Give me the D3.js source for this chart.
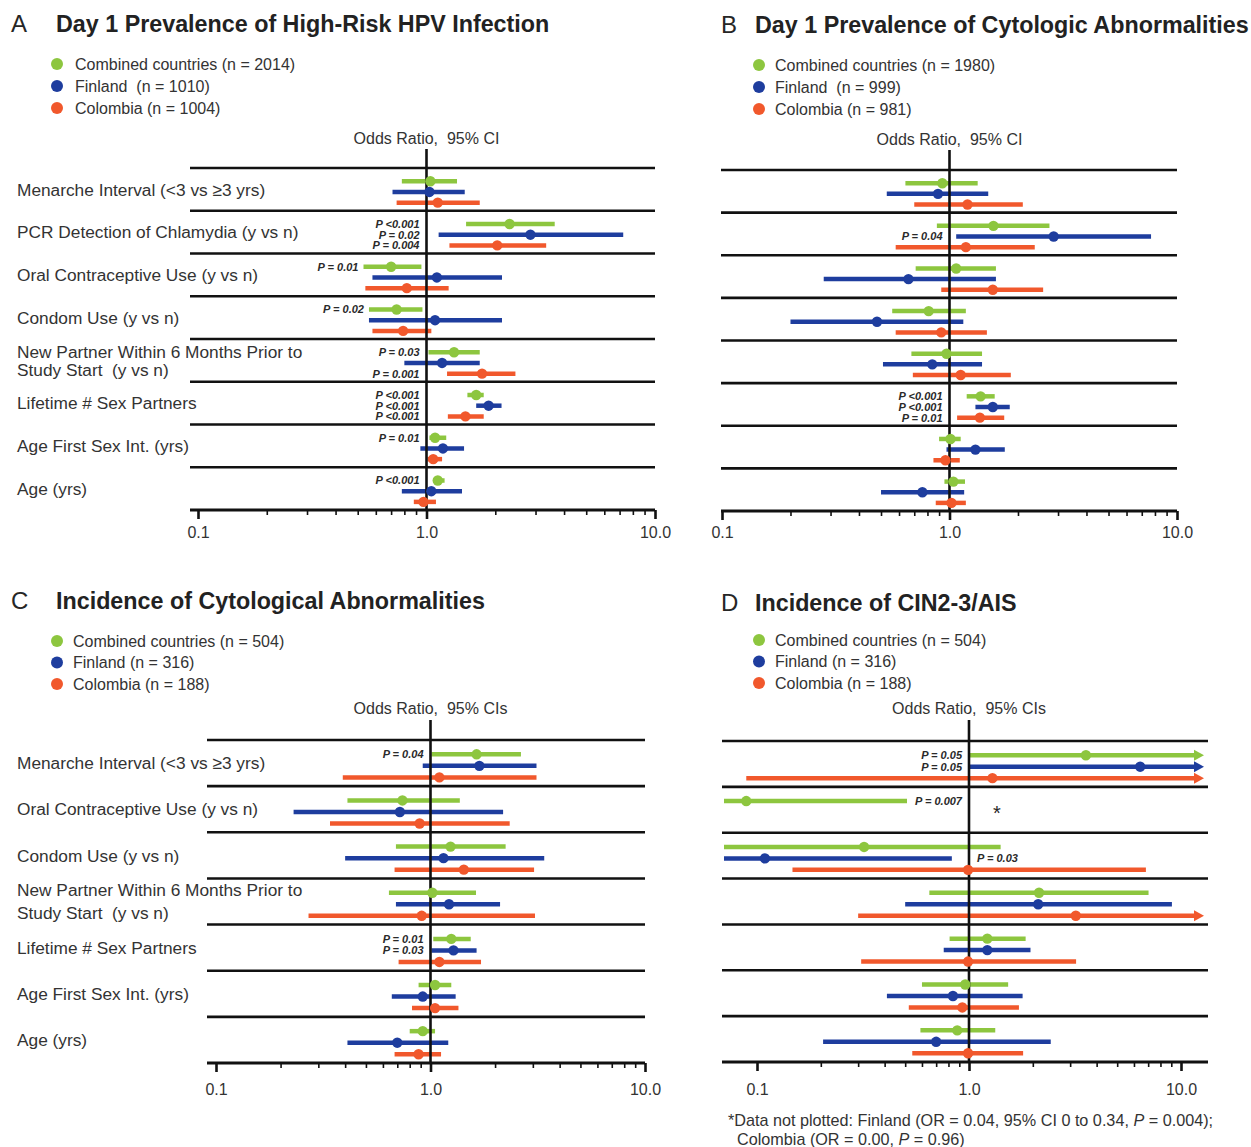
<!DOCTYPE html>
<html><head><meta charset="utf-8">
<script src="https://cdn.jsdelivr.net/npm/d3@7/dist/d3.min.js"></script>
<style>
body{margin:0;background:#fff;}
svg text{font-family:"Liberation Sans",Arial,Helvetica,sans-serif; white-space:pre;}
</style></head><body>
<svg id="chart" width="1251" height="1147"></svg>
<script>
// ---------------- DATA ----------------
const seriesNames = ["Combined countries", "Finland", "Colombia"];
const seriesColors = ["#8dc63f", "#1e3d9e", "#f1582c"];

const legendA = ["Combined countries (n = 2014)", "Finland  (n = 1010)", "Colombia (n = 1004)"];
const legendB = ["Combined countries (n = 1980)", "Finland  (n = 999)", "Colombia (n = 981)"];
const legendC = ["Combined countries (n = 504)", "Finland (n = 316)", "Colombia (n = 188)"];
const legendD = ["Combined countries (n = 504)", "Finland (n = 316)", "Colombia (n = 188)"];

const rowsAB = ["Menarche Interval (<3 vs ≥3 yrs)", "PCR Detection of Chlamydia (y vs n)",
  "Oral Contraceptive Use (y vs n)", "Condom Use (y vs n)",
  "New Partner Within 6 Months Prior to\nStudy Start  (y vs n)", "Lifetime # Sex Partners",
  "Age First Sex Int. (yrs)", "Age (yrs)"];
const rowsCD = ["Menarche Interval (<3 vs ≥3 yrs)", "Oral Contraceptive Use (y vs n)",
  "Condom Use (y vs n)", "New Partner Within 6 Months Prior to\nStudy Start  (y vs n)",
  "Lifetime # Sex Partners", "Age First Sex Int. (yrs)", "Age (yrs)"];

const tickValues = [0.1,0.2,0.3,0.4,0.5,0.6,0.7,0.8,0.9,1,2,3,4,5,6,7,8,9,10];
const tickLabels = {0.1: "0.1", 1: "1.0", 10: "10.0"};

// [odds ratio, lower 95% CI, upper 95% CI]; null bound = beyond plotted range
const aCombined = [[1.04,0.78,1.36],[2.31,1.49,3.64],[0.70,0.53,0.95],[0.74,0.56,0.96],[1.32,1.02,1.71],[1.65,1.51,1.78],[1.09,1.03,1.22],[1.12,1.07,1.20]];
const aFinland  = [[1.03,0.71,1.47],[2.85,1.13,7.26],[1.11,0.58,2.14],[1.09,0.56,2.14],[1.17,0.80,1.71],[1.87,1.65,2.13],[1.18,0.94,1.46],[1.05,0.78,1.43]];
const aColombia = [[1.12,0.74,1.71],[2.04,1.26,3.34],[0.82,0.54,1.25],[0.79,0.58,1.05],[1.75,1.23,2.45],[1.48,1.24,1.78],[1.07,1.01,1.17],[0.97,0.88,1.10]];
const pACombined = ["", "P <0.001", "P = 0.01", "P = 0.02", "P = 0.03", "P <0.001", "P = 0.01", "P <0.001"];
const pAFinland  = ["", "P = 0.02", "", "", "", "P <0.001", "", ""];
const pAColombia = ["", "P = 0.004", "", "", "P = 0.001", "P <0.001", "", ""];

const bCombined = [[0.93,0.64,1.33],[1.56,0.88,2.75],[1.07,0.71,1.60],[0.81,0.56,1.18],[0.97,0.68,1.39],[1.37,1.19,1.58],[1.01,0.90,1.12],[1.04,0.95,1.17]];
const bFinland  = [[0.89,0.53,1.48],[2.87,1.07,7.69],[0.66,0.28,1.60],[0.48,0.20,1.15],[0.84,0.51,1.39],[1.55,1.30,1.84],[1.30,0.97,1.75],[0.76,0.50,1.16]];
const bColombia = [[1.20,0.70,2.10],[1.18,0.58,2.37],[1.55,0.92,2.58],[0.92,0.58,1.46],[1.12,0.69,1.86],[1.36,1.08,1.74],[0.96,0.85,1.11],[1.02,0.87,1.18]];
const pBCombined = ["", "", "", "", "", "P <0.001", "", ""];
const pBFinland  = ["", "P = 0.04", "", "", "", "P <0.001", "", ""];
const pBColombia = ["", "", "", "", "", "P = 0.01", "", ""];

const cCombined = [[1.64,1.01,2.64],[0.74,0.41,1.37],[1.24,0.69,2.24],[1.02,0.64,1.63],[1.25,1.03,1.54],[1.05,0.88,1.25],[0.92,0.80,1.05]];
const cFinland  = [[1.69,0.92,3.12],[0.72,0.23,2.18],[1.15,0.40,3.39],[1.22,0.69,2.11],[1.28,1.01,1.64],[0.92,0.66,1.31],[0.70,0.41,1.21]];
const cColombia = [[1.10,0.39,3.12],[0.89,0.34,2.34],[1.43,0.68,3.04],[0.91,0.27,3.07],[1.10,0.71,1.72],[1.05,0.82,1.35],[0.88,0.68,1.12]];
const pCCombined = ["P = 0.04", "", "", "", "P = 0.01", "", ""];
const pCFinland  = ["", "", "", "", "P = 0.03", "", ""];
const pCColombia = ["", "", "", "", "", "", ""];

const dCombined = [[3.56,1.01,null],[0.089,null,0.51],[0.32,null,1.41],[2.14,0.65,7.03],[1.22,0.81,1.85],[0.96,0.60,1.53],[0.88,0.59,1.33]];
const dFinland  = [[6.42,1.01,null],null,[0.109,null,0.83],[2.12,0.50,9.06],[1.22,0.76,1.95],[0.84,0.41,1.79],[0.70,0.205,2.43]];
const dColombia = [[1.29,0.089,null],null,[0.99,0.147,6.83],[3.19,0.30,null],[0.99,0.31,3.20],[0.93,0.52,1.72],[0.99,0.54,1.80]];
const pDCombined = ["P = 0.05", "P = 0.007", "", "", "", "", ""];
const pDFinland  = ["P = 0.05", "", "P = 0.03", "", "", "", ""];
const pDColombia = ["", "", "", "", "", "", ""];
const dNotPlottedRow = 1;

// ---------------- LAYOUT ----------------
const panels = [
  {letter:"A", title:"Day 1 Prevalence of High-Risk HPV Infection", lx:11, tx:56, ty:32,
   legend:legendA, legX:57, legTX:75, legY:64, legStep:22, odds:"Odds Ratio,  95% CI", oddsY:138,
   rows:rowsAB, series:[aCombined,aFinland,aColombia], pv:[pACombined,pAFinland,pAColombia],
   range:[198,655], axL:190, axR:655, top:168, bottom:510, vTop:149, tlY:532, labels:true, gap:18},
  {letter:"B", title:"Day 1 Prevalence of Cytologic Abnormalities", lx:721, tx:755, ty:33,
   legend:legendB, legX:759, legTX:775, legY:65, legStep:22, odds:"Odds Ratio,  95% CI", oddsY:139,
   rows:rowsAB, series:[bCombined,bFinland,bColombia], pv:[pBCombined,pBFinland,pBColombia],
   range:[722,1177], axL:721, axR:1177, top:170, bottom:511, vTop:150, tlY:532, labels:false},
  {letter:"C", title:"Incidence of Cytological Abnormalities", lx:11, tx:56, ty:609,
   legend:legendC, legX:57, legTX:73, legY:641, legStep:21.5, odds:"Odds Ratio,  95% CIs", oddsY:708,
   rows:rowsCD, series:[cCombined,cFinland,cColombia], pv:[pCCombined,pCFinland,pCColombia],
   range:[216,645], axL:207, axR:645, top:740, bottom:1063, vTop:720, tlY:1089, labels:true, gap:23},
  {letter:"D", title:"Incidence of CIN2-3/AIS", lx:721, tx:755, ty:611,
   legend:legendD, legX:759, legTX:775, legY:640, legStep:21.5, odds:"Odds Ratio,  95% CIs", oddsY:708,
   rows:rowsCD, series:[dCombined,dFinland,dColombia], pv:[pDCombined,pDFinland,pDColombia],
   range:[757,1181], axL:722, axR:1208, top:741, bottom:1062, vTop:720, tlY:1089, labels:false, arrows:true}
];

const svg = d3.select("#chart");
const ink = "#262626";
const offsets = [0.31, 0.56, 0.81];

panels.forEach(P => {
  const g = svg.append("g");
  const x = d3.scaleLog().domain([0.1, 10]).range(P.range);
  const y = d3.scaleBand().domain(P.rows.map((r,i)=>i)).range([P.top, P.bottom]).paddingInner(0).paddingOuter(0);
  const bw = y.bandwidth();
  const x1 = x(1);

  // letter + title
  g.append("text").attr("x", P.lx).attr("y", P.ty).attr("font-size", 24).attr("fill", ink).text(P.letter);
  g.append("text").attr("x", P.tx).attr("y", P.ty).attr("font-size", 23.3).attr("font-weight", "bold").attr("fill", "#222").text(P.title);

  // legend
  P.legend.forEach((t, i) => {
    g.append("circle").attr("cx", P.legX).attr("cy", P.legY + i*P.legStep).attr("r", 6).attr("fill", seriesColors[i]);
    g.append("text").attr("x", P.legTX).attr("y", P.legY + i*P.legStep).attr("dy", "0.36em")
      .attr("font-size", 16).attr("fill", "#333").text(t);
  });

  // odds ratio label
  g.append("text").attr("x", x1).attr("y", P.oddsY).attr("dy", "0.36em").attr("text-anchor", "middle")
    .attr("font-size", 16).attr("fill", "#333").text(P.odds);

  // separators
  P.rows.forEach((r, i) => {
    g.append("line").attr("x1", P.axL).attr("x2", P.axR).attr("y1", y(i)).attr("y2", y(i))
      .attr("stroke", "#111").attr("stroke-width", 2.6);
  });

  // row labels
  if (P.labels) {
    P.rows.forEach((r, i) => {
      const lines = r.split("\n");
      const cy = y(i) + bw/2;
      lines.forEach((ln, k) => {
        g.append("text").attr("x", 17).attr("y", cy + (k - (lines.length-1)/2) * P.gap)
          .attr("dy", "0.36em").attr("font-size", 17.3).attr("fill", "#333").text(ln);
      });
    });
  }

  // bars
  const barG = g.append("g");
  const vG = g.append("g");
  const dotG = g.append("g");
  const labG = g.append("g");
  const edgeL = P.axL + 2, edgeR = P.axR - 4;
  P.series.forEach((ser, s) => {
    ser.forEach((d, i) => {
      if (!d) return;
      const yy = y(i) + bw * offsets[s];
      const xl = d[1] == null ? edgeL : x(d[1]);
      const xh = d[2] == null ? edgeR - 6 : x(d[2]);
      barG.append("line").attr("x1", xl).attr("x2", xh).attr("y1", yy).attr("y2", yy)
        .attr("stroke", seriesColors[s]).attr("stroke-width", 4.5);
      if (d[2] == null && P.arrows) {
        barG.append("path").attr("d", `M${edgeR},${yy} L${edgeR-10},${yy-5.5} L${edgeR-10},${yy+5.5} Z`)
          .attr("fill", seriesColors[s]);
      }
      dotG.append("circle").attr("cx", x(d[0])).attr("cy", yy).attr("r", 5.2).attr("fill", seriesColors[s]);
      const pt = P.pv[s][i];
      if (pt) {
        const t = labG.append("text").attr("y", yy).attr("dy", "0.36em").attr("font-size", 11)
          .attr("font-weight", "bold").attr("font-style", "italic").attr("fill", "#2a2a2a").text(pt);
        const w = t.node().getComputedTextLength();
        let tx, anchor = "end";
        if (xh < x1) {
          if (xl - 5 - w > P.axL) tx = xl - 5;
          else if (x1 - 7 - w > xh + 2) tx = x1 - 7;
          else { tx = x1 + 8; anchor = "start"; }
        } else tx = x1 - 7;
        t.attr("x", tx).attr("text-anchor", anchor);
      }
    });
  });

  // vertical reference line at OR = 1
  vG.append("line").attr("x1", x1).attr("x2", x1).attr("y1", P.vTop).attr("y2", P.bottom)
    .attr("stroke", "#111").attr("stroke-width", 2.6);

  // axis
  g.append("line").attr("x1", P.axL).attr("x2", P.axR).attr("y1", P.bottom).attr("y2", P.bottom)
    .attr("stroke", "#111").attr("stroke-width", 2.8);
  const axis = d3.axisBottom(x).tickValues(tickValues).tickSize(5).tickPadding(0)
    .tickFormat(d => tickLabels[d] || "");
  const ag = g.append("g").attr("transform", `translate(0,${P.bottom})`).call(axis);
  ag.select(".domain").remove();
  ag.selectAll(".tick line").attr("stroke", "#111")
    .attr("stroke-width", d => tickLabels[d] ? 2.6 : 1.6)
    .attr("y2", d => tickLabels[d] ? 9 : 5);
  ag.selectAll(".tick text").attr("y", P.tlY - P.bottom).attr("dy", "0.36em")
    .attr("font-size", 16).attr("fill", "#333")
    .style("font-family", '"Liberation Sans",Arial,Helvetica,sans-serif');

  if (P.letter === "D") {
    g.append("text").attr("x", x1 + 28).attr("y", y(dNotPlottedRow) + bw*0.5).attr("dy", "0.5em")
      .attr("text-anchor", "middle").attr("font-size", 20).attr("fill", ink).text("*");
  }
});

// footnote
const fn = svg.append("g").attr("font-size", 16.2).attr("fill", "#333");
const f1 = fn.append("text").attr("x", 728).attr("y", 1126);
f1.append("tspan").text("*Data not plotted: Finland (OR = 0.04, 95% CI 0 to 0.34, ");
f1.append("tspan").attr("font-style", "italic").text("P");
f1.append("tspan").text(" = 0.004);");
const f2 = fn.append("text").attr("x", 737).attr("y", 1145);
f2.append("tspan").text("Colombia (OR = 0.00, ");
f2.append("tspan").attr("font-style", "italic").text("P");
f2.append("tspan").text(" = 0.96)");
</script>
</body></html>
